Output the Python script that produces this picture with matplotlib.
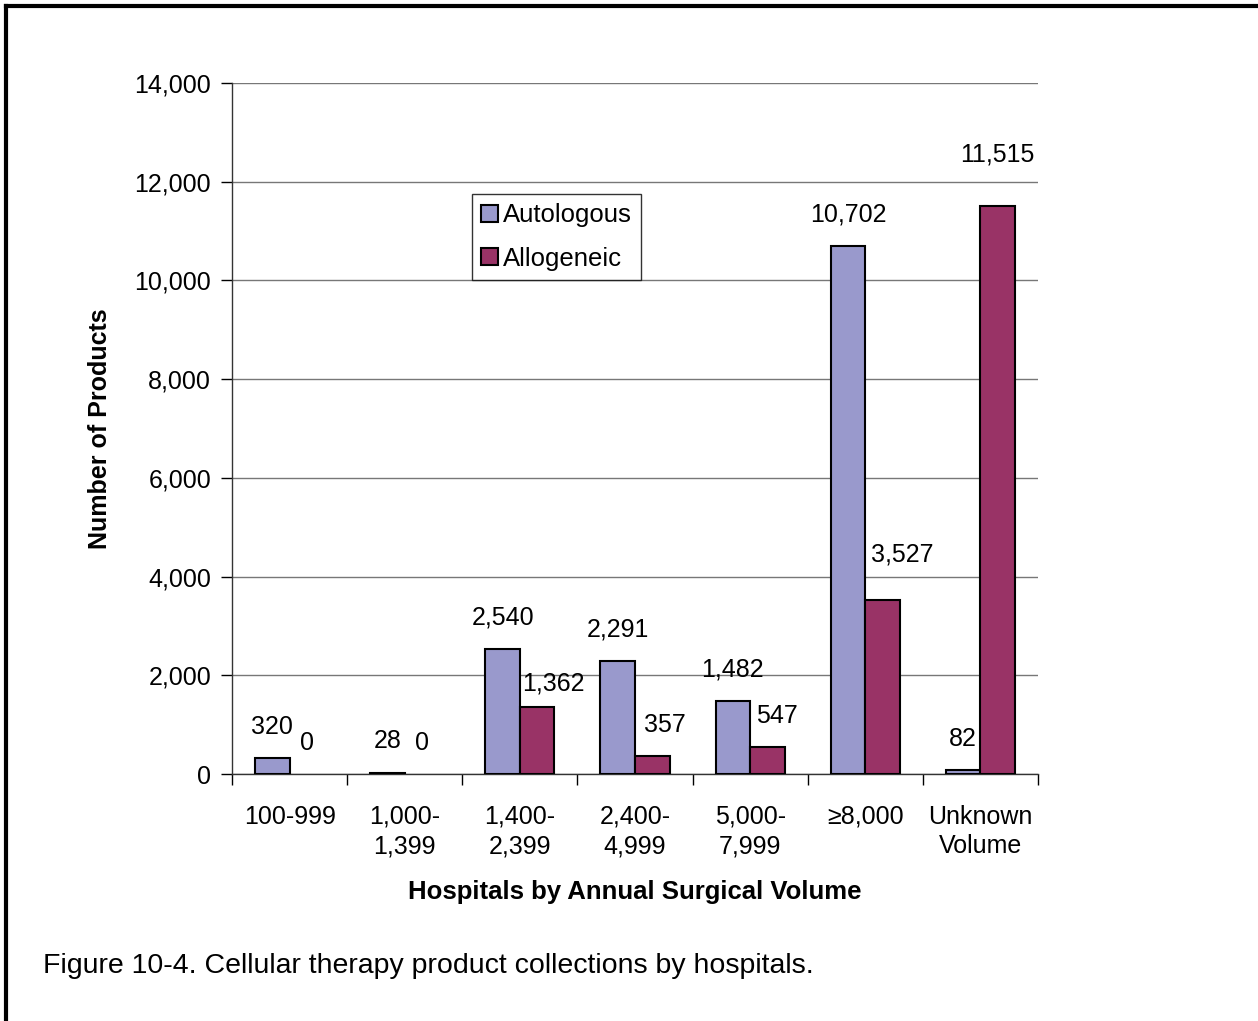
import matplotlib
matplotlib.use("Agg")
import matplotlib.pyplot as plt
from matplotlib.patches import Patch
import numpy as np

categories = ["100-999", "1,000-\n1,399", "1,400-\n2,399", "2,400-\n4,999",
              "5,000-\n7,999", "\u22658,000", "Unknown\nVolume"]
autologous = [320, 28, 2540, 2291, 1482, 10702, 82]
allogeneic = [0, 0, 1362, 357, 547, 3527, 11515]
yticks = [0, 2000, 4000, 6000, 8000, 10000, 12000, 14000]

# label offsets (points) for allogeneic labels, Excel-style placement
allo_dx = [0, 0, 12, 9, 7, 14, 0]
allo_dy = [0, 0, -6, 0, 0, 10, 14]

plt.rcParams['font.family'] = ['Liberation Sans', 'DejaVu Sans']
AUTO_C = '#9999CC'
ALLO_C = '#993366'
FS = 18

fig = plt.figure(figsize=(12.58, 10.21), dpi=100)
ax = fig.add_axes([232/1258, 1-774/1021, 806/1258, 691/1021])

x = np.arange(len(categories))
w = 0.3
b1 = ax.bar(x - w/2, autologous, w, color=AUTO_C, edgecolor='black', linewidth=1.5, zorder=3)
b2 = ax.bar(x + w/2, allogeneic, w, color=ALLO_C, edgecolor='black', linewidth=1.5, zorder=3)
for bars, vals in ((b1, autologous), (b2, allogeneic)):
    for r, v in zip(bars, vals):
        if v == 0:
            r.set_linewidth(0)

ax.set_xlim(-0.5, len(categories) - 0.5)
ax.set_ylim(0, 14000)
ax.set_yticks(yticks)
ax.set_yticklabels([f"{v:,}" for v in yticks], fontsize=FS)
ax.set_xticks(x)
ax.set_xticklabels(categories, fontsize=FS, linespacing=1.3)
ax.set_xticks(np.arange(len(categories) + 1) - 0.5, minor=True)
ax.tick_params(axis='x', which='major', length=0, pad=22)
ax.tick_params(axis='x', which='minor', length=8, width=1, direction='out')
ax.tick_params(axis='y', length=8, width=1, direction='out', pad=7)

ax.grid(axis='y', color='#777777', linewidth=1, zorder=0)
for s in ['top', 'right']:
    ax.spines[s].set_visible(False)
for s in ['left', 'bottom']:
    ax.spines[s].set_linewidth(1)
    ax.spines[s].set_color('#333333')

for i, v in enumerate(autologous):
    ax.annotate(f"{v:,}", (x[i] - w/2, v), xytext=(0, 14), textcoords='offset points',
                ha='center', va='bottom', fontsize=FS)
for i, v in enumerate(allogeneic):
    ax.annotate(f"{v:,}", (x[i] + w/2, v), xytext=(allo_dx[i], 14 + allo_dy[i]), textcoords='offset points',
                ha='center', va='bottom', fontsize=FS)

ax.set_ylabel("Number of Products", fontsize=18, fontweight='bold', labelpad=16)
ax.set_xlabel("Hospitals by Annual Surgical Volume", fontsize=18.5, fontweight='bold', labelpad=16)

handles = [Patch(facecolor=AUTO_C, edgecolor='black', linewidth=1.5, label='Autologous'),
           Patch(facecolor=ALLO_C, edgecolor='black', linewidth=1.5, label='Allogeneic')]
leg = ax.legend(handles=handles, loc='upper left', bbox_to_anchor=(0.298, 0.839), fontsize=18.5, frameon=True,
                fancybox=False, edgecolor='black', handlelength=0.65, handleheight=0.65,
                handletextpad=0.2, borderpad=0.35, labelspacing=0.75, borderaxespad=0)
leg.get_frame().set_linewidth(1)

fig.text(43/1258, 1-966/1021, "Figure 10-4. Cellular therapy product collections by hospitals.",
         fontsize=20.5, va='center', ha='left')

# frame around figure (left and top)
fig.add_artist(plt.Line2D([6/1258, 6/1258], [0, 1-6/1021], color='black', linewidth=3, transform=fig.transFigure))
fig.add_artist(plt.Line2D([6/1258, 1], [1-6/1021, 1-6/1021], color='black', linewidth=3, transform=fig.transFigure))

fig.savefig("out.png", dpi=100)
